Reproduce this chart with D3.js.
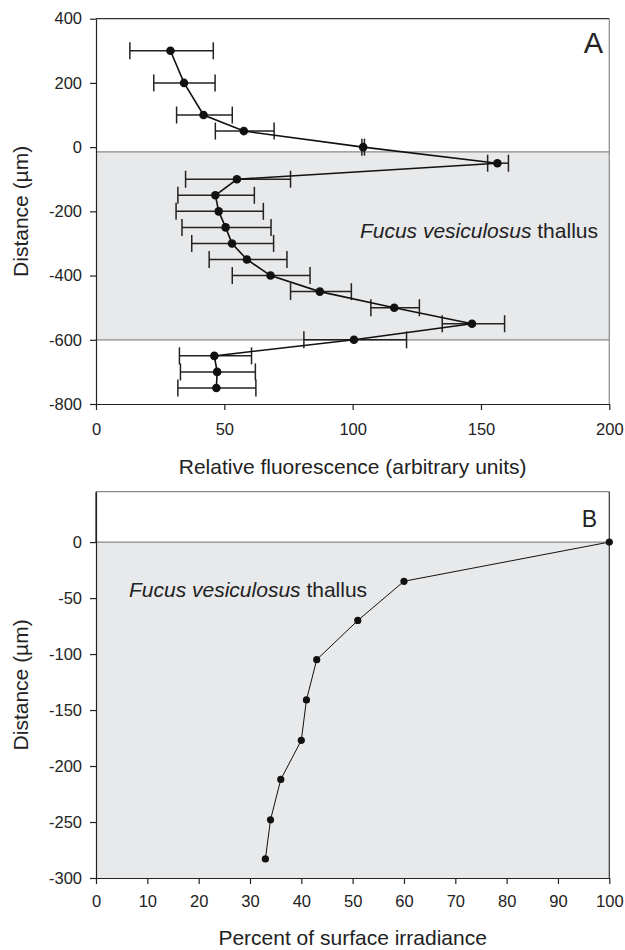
<!DOCTYPE html>
<html>
  <head>
    <meta charset="utf-8" />
    <script src="https://cdn.jsdelivr.net/npm/d3@7"></script>
    <style>
      * {
        margin: 0;
        padding: 0;
      }
      body {
        background: white;
        font-family: "Liberation Sans", Arial, sans-serif;
      }
      .axis text {
        font-size: 16.5px;
        fill: #222;
        font-family: "Liberation Sans", Arial, sans-serif;
      }
      .axis line,
      .axis path {
        stroke: #222;
      }
      .title {
        font-size: 21px;
        fill: #222;
      }
    </style>
  </head>
  <body>
    <svg id="chart" width="625" height="950"></svg>
    <script>
      // panel A: fluorescence profile
      const depthA = [300, 200, 100, 50, 0, -50, -100, -150, -200, -250, -300, -350, -400, -450, -500, -550, -600, -650, -700, -750];
      const fluorA = [29.0, 34.3, 41.9, 57.6, 104.1, 156.4, 54.9, 46.5, 47.8, 50.5, 53.0, 58.8, 68.0, 87.2, 116.2, 146.5, 100.5, 46.1, 47.2, 46.9];
      const lowA = [13.2, 22.5, 31.4, 46.5, 103.6, 152.6, 34.9, 31.9, 31.2, 33.5, 37.3, 44.1, 53.1, 75.8, 107.1, 134.9, 81.0, 32.5, 32.9, 31.9];
      const highA = [45.7, 46.4, 53.1, 69.4, 104.6, 160.7, 75.8, 61.7, 65.2, 68.2, 69.2, 74.4, 83.4, 99.5, 126.0, 159.2, 121.0, 60.6, 62.1, 62.3];
      const thallusA = [-15, -600];
      const xTicksA = [0, 50, 100, 150, 200];
      const yTicksA = [400, 200, 0, -200, -400, -600, -800];

      // panel B: irradiance profile
      const depthB = [0, -35, -70, -105, -141, -177, -212, -248, -283];
      const irradB = [100, 60, 51, 43, 41, 40, 36, 34, 33];
      const thallusB = [0, -300];
      const xTicksB = [0, 10, 20, 30, 40, 50, 60, 70, 80, 90, 100];
      const yTicksB = [0, -50, -100, -150, -200, -250, -300];

      const svg = d3.select("#chart");
      const left = 96;
      const right = 609.3;
      const shade = "#e8e9eb";
      const plain = (d) => String(d); // hyphen minus, like the original

      // ---------- A ----------
      const xA = d3.scaleLinear().domain([0, 200]).range([left, right]);
      const yA = d3.scaleLinear().domain([-800, 400]).range([404, 18.7]);

      const gA = svg.append("g");
      gA.append("rect")
        .attr("x", xA(0))
        .attr("y", yA(thallusA[0]))
        .attr("width", xA(200) - xA(0))
        .attr("height", yA(thallusA[1]) - yA(thallusA[0]))
        .attr("fill", shade);
      thallusA.forEach((v) => {
        gA.append("line")
          .attr("x1", xA(0)).attr("x2", xA(200))
          .attr("y1", yA(v)).attr("y2", yA(v))
          .attr("stroke", "#888").attr("stroke-width", 1.2);
      });
      // frame
      gA.append("line").attr("x1", xA(0)).attr("x2", xA(200))
        .attr("y1", yA(400)).attr("y2", yA(400))
        .attr("stroke", "#333").attr("stroke-width", 1.2);
      gA.append("line").attr("x1", xA(200)).attr("x2", xA(200))
        .attr("y1", yA(400)).attr("y2", yA(-800))
        .attr("stroke", "#888").attr("stroke-width", 1.2);

      gA.append("g")
        .attr("class", "axis")
        .attr("transform", "translate(0," + yA(-800) + ")")
        .call(d3.axisBottom(xA).tickValues(xTicksA).tickFormat(plain).tickSize(6).tickSizeOuter(0).tickPadding(13))
        .call((g) => g.selectAll("path, line").attr("stroke-width", 1.2));
      gA.append("g")
        .attr("class", "axis")
        .attr("transform", "translate(" + left + ",0)")
        .call(d3.axisLeft(yA).tickValues(yTicksA).tickFormat(plain).tickSize(6).tickSizeOuter(0).tickPadding(8))
        .call((g) => g.selectAll("path, line").attr("stroke-width", 1.2));

      // error bars
      const cap = 8.5;
      const eb = gA.append("g").attr("stroke", "#222").attr("stroke-width", 1.5);
      depthA.forEach((d, i) => {
        const y = yA(d);
        eb.append("line").attr("x1", xA(lowA[i])).attr("x2", xA(highA[i])).attr("y1", y).attr("y2", y);
        eb.append("line").attr("x1", xA(lowA[i])).attr("x2", xA(lowA[i])).attr("y1", y - cap).attr("y2", y + cap);
        eb.append("line").attr("x1", xA(highA[i])).attr("x2", xA(highA[i])).attr("y1", y - cap).attr("y2", y + cap);
      });

      const lineA = d3.line().x((d, i) => xA(fluorA[i])).y((d) => yA(d));
      gA.append("path")
        .attr("d", lineA(depthA))
        .attr("fill", "none")
        .attr("stroke", "#111")
        .attr("stroke-width", 1.6);
      gA.selectAll("circle")
        .data(depthA)
        .enter()
        .append("circle")
        .attr("cx", (d, i) => xA(fluorA[i]))
        .attr("cy", (d) => yA(d))
        .attr("r", 4.3)
        .attr("fill", "#111");

      gA.append("text").attr("class", "title")
        .attr("x", 598).attr("y", 238)
        .attr("text-anchor", "end")
        .html('<tspan font-style="italic">Fucus vesiculosus</tspan> thallus');
      gA.append("text")
        .attr("x", 603).attr("y", 53)
        .attr("text-anchor", "end")
        .attr("font-size", 29).attr("fill", "#222")
        .text("A");
      gA.append("text").attr("class", "title")
        .attr("x", (left + right) / 2).attr("y", 474)
        .attr("text-anchor", "middle")
        .text("Relative fluorescence (arbitrary units)");
      gA.append("text").attr("class", "title")
        .attr("transform", "translate(28," + (yA(400) + yA(-800)) / 2 + ") rotate(-90)")
        .attr("text-anchor", "middle")
        .text("Distance (µm)");

      // ---------- B ----------
      const xB = d3.scaleLinear().domain([0, 100]).range([left, right]);
      const yB = d3.scaleLinear().domain([-300, 45]).range([878, 491.7]);

      const gB = svg.append("g");
      gB.append("rect")
        .attr("x", xB(0))
        .attr("y", yB(thallusB[0]))
        .attr("width", xB(100) - xB(0))
        .attr("height", yB(thallusB[1]) - yB(thallusB[0]))
        .attr("fill", shade);
      gB.append("line")
        .attr("x1", xB(0)).attr("x2", xB(100))
        .attr("y1", yB(0)).attr("y2", yB(0))
        .attr("stroke", "#888").attr("stroke-width", 1.2);
      gB.append("line").attr("x1", xB(0)).attr("x2", xB(100))
        .attr("y1", yB(45)).attr("y2", yB(45))
        .attr("stroke", "#888").attr("stroke-width", 1.2);
      gB.append("line").attr("x1", xB(100)).attr("x2", xB(100))
        .attr("y1", yB(45)).attr("y2", yB(-300))
        .attr("stroke", "#333").attr("stroke-width", 1.2);

      gB.append("g")
        .attr("class", "axis")
        .attr("transform", "translate(0," + yB(-300) + ")")
        .call(d3.axisBottom(xB).tickValues(xTicksB).tickFormat(plain).tickSize(6).tickSizeOuter(0).tickPadding(11))
        .call((g) => g.selectAll("path, line").attr("stroke-width", 1.2));
      gB.append("g")
        .attr("class", "axis")
        .attr("transform", "translate(" + left + ",0)")
        .call(d3.axisLeft(yB).tickValues(yTicksB).tickFormat(plain).tickSize(6).tickSizeOuter(0).tickPadding(8))
        .call((g) => g.selectAll("path, line").attr("stroke-width", 1.2));
      // left axis goes up to the frame top
      gB.append("line").attr("x1", left).attr("x2", left)
        .attr("y1", yB(45)).attr("y2", yB(0))
        .attr("stroke", "#222").attr("stroke-width", 1.2);

      const lineB = d3.line().x((d, i) => xB(irradB[i])).y((d) => yB(d));
      gB.append("path")
        .attr("d", lineB(depthB))
        .attr("fill", "none")
        .attr("stroke", "#111")
        .attr("stroke-width", 1);
      gB.selectAll("circle")
        .data(depthB)
        .enter()
        .append("circle")
        .attr("cx", (d, i) => xB(irradB[i]))
        .attr("cy", (d) => yB(d))
        .attr("r", 3.6)
        .attr("fill", "#111");

      gB.append("text").attr("class", "title")
        .attr("x", 129).attr("y", 597)
        .html('<tspan font-style="italic">Fucus vesiculosus</tspan> thallus');
      gB.append("text")
        .attr("x", 597).attr("y", 527)
        .attr("text-anchor", "end")
        .attr("font-size", 23).attr("fill", "#222")
        .text("B");
      gB.append("text").attr("class", "title")
        .attr("x", (left + right) / 2).attr("y", 945)
        .attr("text-anchor", "middle")
        .text("Percent of surface irradiance");
      gB.append("text").attr("class", "title")
        .attr("transform", "translate(28," + (yB(45) + yB(-300)) / 2 + ") rotate(-90)")
        .attr("text-anchor", "middle")
        .text("Distance (µm)");
    </script>
  </body>
</html>
